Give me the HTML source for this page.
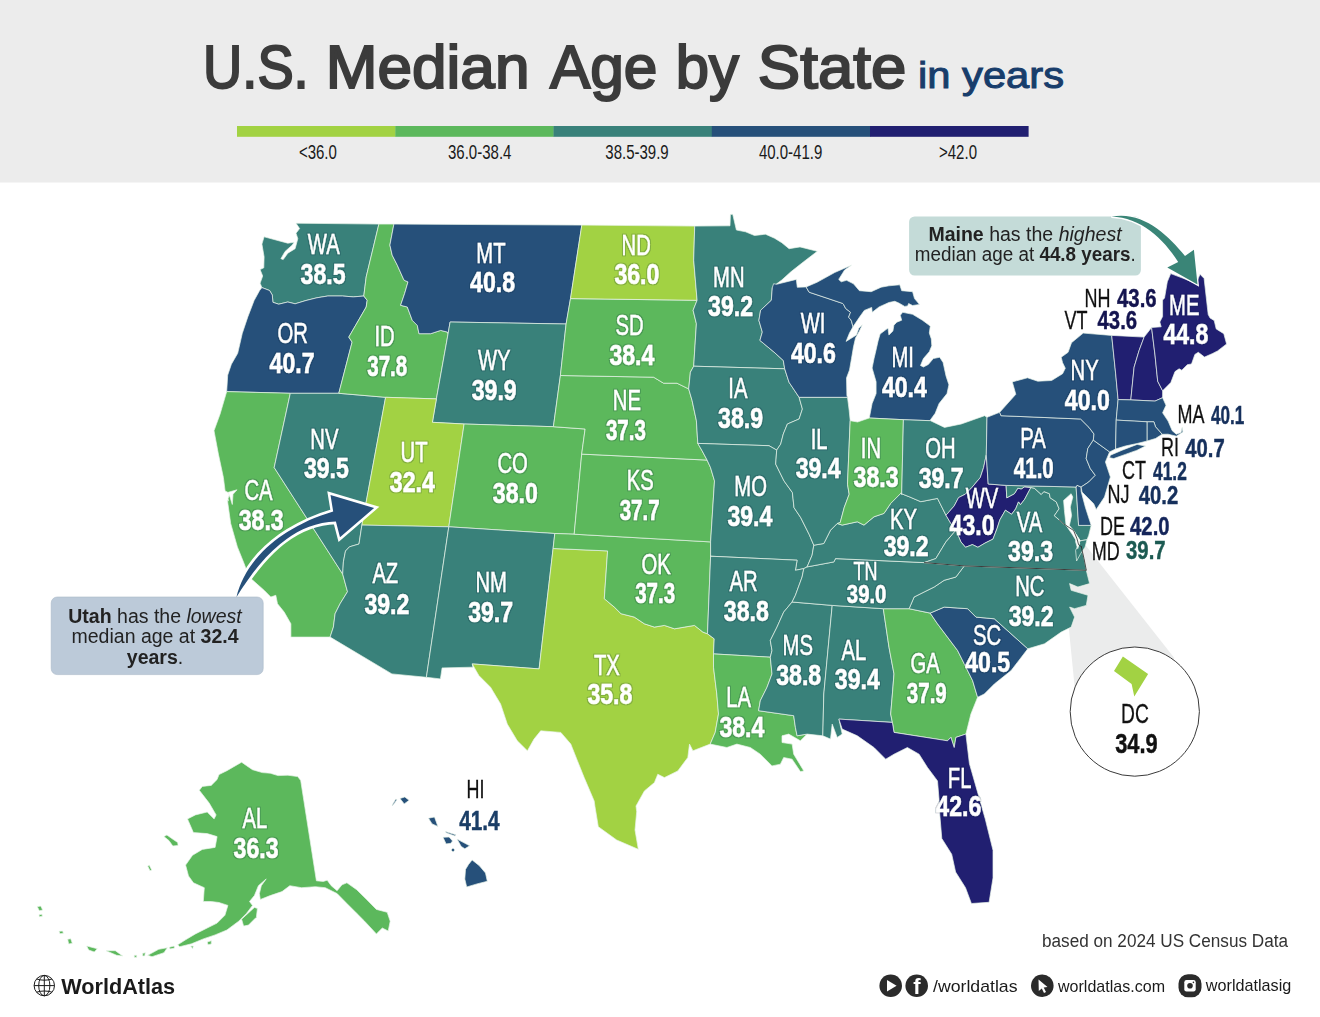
<!DOCTYPE html>
<html lang="en"><head><meta charset="utf-8"><title>U.S. Median Age by State</title>
<style>
html,body{margin:0;padding:0;background:#fff}
body{width:1320px;height:1017px;overflow:hidden}
svg{display:block}
text{font-family:"Liberation Sans",sans-serif}
.st polygon{stroke:#e8f3ea;stroke-width:.7;stroke-linejoin:round}
.ab{font-size:29.6px;fill:#fff;stroke:#fff;stroke-width:.45}
.nu{font-size:29.6px;font-weight:bold;fill:#fff;stroke:#fff;stroke-width:.55}
.sab{font-size:25.7px;fill:#111;stroke:#111;stroke-width:.3}
.snu{font-size:25.7px;font-weight:bold;fill:#16305c;stroke-width:.45}
.co{font-size:19.5px;fill:#222}
</style></head><body>
<svg width="1320" height="1017" viewBox="0 0 1320 1017">
<rect width="1320" height="1017" fill="#fff"/>
<rect width="1320" height="182.5" fill="#ececec"/>

<text x="203.1" y="88.3" font-size="62" fill="#3b3b3b" stroke="#3b3b3b" stroke-width="2.1" stroke-linejoin="miter" textLength="105.6" lengthAdjust="spacingAndGlyphs">U.S.</text>
<text x="325.75" y="88.3" font-size="62" fill="#3b3b3b" stroke="#3b3b3b" stroke-width="2.1" stroke-linejoin="miter" textLength="203.7" lengthAdjust="spacingAndGlyphs">Median</text>
<text x="549.9" y="88.3" font-size="62" fill="#3b3b3b" stroke="#3b3b3b" stroke-width="2.1" stroke-linejoin="miter" textLength="107.4" lengthAdjust="spacingAndGlyphs">Age</text>
<text x="675.8" y="88.3" font-size="62" fill="#3b3b3b" stroke="#3b3b3b" stroke-width="2.1" stroke-linejoin="miter" textLength="63.1" lengthAdjust="spacingAndGlyphs">by</text>
<text x="757.85" y="88.3" font-size="62" fill="#3b3b3b" stroke="#3b3b3b" stroke-width="2.1" stroke-linejoin="miter" textLength="148.5" lengthAdjust="spacingAndGlyphs">State</text>
<text id="sub" x="918" y="88" font-size="36.5" fill="#183d6b" textLength="146" lengthAdjust="spacingAndGlyphs" stroke="#183d6b" stroke-width="1">in years</text>
<rect x="237" y="126" width="158.6" height="10.8" fill="#a2d243"/>
<rect x="395.3" y="126" width="158.5" height="10.8" fill="#5cb85c"/>
<rect x="553.5" y="126" width="158.6" height="10.8" fill="#39817a"/>
<rect x="711.8" y="126" width="158.5" height="10.8" fill="#26507a"/>
<rect x="870" y="126" width="158.6" height="10.8" fill="#211f71"/>
<text transform="translate(317.9,159.3) scale(.74,1)" text-anchor="middle" font-size="20.3" fill="#1a1a1a">&lt;36.0</text>
<text transform="translate(479.7,159.3) scale(.74,1)" text-anchor="middle" font-size="20.3" fill="#1a1a1a">36.0-38.4</text>
<text transform="translate(637,159.3) scale(.74,1)" text-anchor="middle" font-size="20.3" fill="#1a1a1a">38.5-39.9</text>
<text transform="translate(790.6,159.3) scale(.74,1)" text-anchor="middle" font-size="20.3" fill="#1a1a1a">40.0-41.9</text>
<text transform="translate(958,159.3) scale(.74,1)" text-anchor="middle" font-size="20.3" fill="#1a1a1a">&gt;42.0</text>
<polygon points="1057,509 1074.5,685.4 1080,700 1134.8,711.6 1174.3,657.9" fill="#ebecec"/>
<g class="st">
<polygon points="261.9,287.6 260.1,283.2 262.7,276 260.1,269.6 263.8,267.8 264.1,256.8 261.9,244.1 264.1,236.8 287.8,243.2 294.1,242.3 292.3,245 285.1,251.4 280.9,258.7 283.2,259.6 287.8,253.2 295.1,248.7 297.8,238.7 296,233.2 299.6,228.6 296,223.2 378.9,224.1 366.2,276.9 363.8,296 353.3,296.9 342.4,296 327.8,296 316.9,297.8 306,300.5 295.1,303.8 287.8,302 278.7,304.2 272.9,302.3 272.3,295.1 269.6,290.5" fill="#39817a"/>
<polygon points="226.7,391.6 226.8,389.7 227.7,375.1 231.4,364.2 237.7,353.3 242.3,333.3 247.8,316.9 254.1,300.5 259.6,290.5 261.9,287.6 269.6,290.5 272.3,295.1 272.9,302.3 278.7,304.2 287.8,302 295.1,303.8 306,300.5 316.9,297.8 327.8,296 342.4,296 353.3,296.9 363.8,296 367.2,300.3 366.2,307 348.8,337.1 352.1,342.1 338.8,393.3 290.3,393.3" fill="#26507a"/>
<polygon points="226.7,391.6 220.1,414 214,430.7 218.4,454.1 223.4,477.5 225.1,490.9 230.1,493.6 228.1,498.2 228.4,500.9 227.4,500.1 230.7,523.5 237.4,546.9 244.1,563.6 249.1,577 264.1,590.3 270.8,597 275.8,595.3 277.5,603.7 284.2,612.1 290.9,623.8 290.9,637.1 330.1,637.1 333.4,627.1 335.1,613.7 340.1,603.7 347.5,591.7 342.7,574.1 274.2,467.5 290.3,393.3" fill="#5cb85c"/>
<polygon points="290.3,393.3 338.8,393.3 385.6,397.3 361.9,525.1 359,544 349.5,546.8 345.5,551 343.4,561.8 342.7,574.1 274.2,467.5" fill="#39817a"/>
<polygon points="378.9,224.1 393.9,224.1 389.9,245.1 392.2,255.2 397.3,265.2 404,280.2 408,281.9 404.6,293.6 400.6,305.3 407.3,307 412.3,320.4 417.3,325.4 419,333.7 430.7,333.7 440.7,330.4 447.4,332.1 448.1,333.7 436.4,398.9 385.6,397.3 338.8,393.3 352.1,342.1 348.8,337.1 366.2,307 367.2,300.3 363.8,296 366.2,276.9" fill="#5cb85c"/>
<polygon points="393.9,224.1 581.8,225.1 570.5,298.6 566.1,324 450.1,322 448.1,333.7 447.4,332.1 440.7,330.4 430.7,333.7 419,333.7 417.3,325.4 412.3,320.4 407.3,307 400.6,305.3 404.6,293.6 408,281.9 404,280.2 397.3,265.2 392.2,255.2 389.9,245.1" fill="#26507a"/>
<polygon points="448.1,333.7 450.1,322 566.1,324 560.4,375.5 553.4,426.7 464.1,424 432.4,422.3 436.4,398.9" fill="#39817a"/>
<polygon points="385.6,397.3 436.4,398.9 432.4,422.3 464.1,424 448.8,526.8 361.9,525.1" fill="#a2d243"/>
<polygon points="464.1,424 553.4,426.7 585.1,429 581.7,454.1 574.2,534.2 554.8,533.5 448.8,526.8" fill="#5cb85c"/>
<polygon points="361.9,525.1 448.8,526.8 426.4,677.3 391.9,673.9 330.1,637.1 333.4,627.1 335.1,613.7 340.1,603.7 347.5,591.7 342.7,574.1 343.4,561.8 345.5,551 349.5,546.8 359,544" fill="#39817a"/>
<polygon points="448.8,526.8 554.8,533.5 553.1,548.5 539.1,668.9 472.2,663.9 472.9,667.2 442.1,667.9 440.4,678.9 426.4,677.3" fill="#39817a"/>
<polygon points="553.1,548.5 607.6,550.9 604.3,598.7 614.3,607.1 621,613.7 634.3,617.1 644.4,623.8 654.4,627.1 664.4,625.4 674.5,628.8 684.5,627.1 694.5,625.4 702.9,632.1 707.5,633.8 714.2,638.8 713.5,653.9 713.5,667.2 716.8,694 718.5,714 715.2,732.4 710.2,744.1 692.9,750.8 689.5,744.1 687.8,757.5 677.8,770.9 664.4,777.6 657.8,774.2 654.4,782.6 644.4,790.9 636,806 636.7,811.7 635,830 638.3,849.3 616.7,840 598.3,826.7 595,806.7 594.2,801 584.2,777.6 577.5,760.9 570.8,744.1 560.8,732.4 540.7,730.8 534,739.1 527.4,750.8 517.3,740.8 507.3,724.1 500.6,704 490.6,687.3 478.9,675.6 472.2,663.9 539.1,668.9" fill="#a2d243"/>
<polygon points="554.8,533.5 574.2,534.2 710.6,541.9 710.6,556.2 707.5,633.8 702.9,632.1 694.5,625.4 684.5,627.1 674.5,628.8 664.4,625.4 654.4,627.1 644.4,623.8 634.3,617.1 621,613.7 614.3,607.1 604.3,598.7 607.6,550.9 553.1,548.5" fill="#5cb85c"/>
<polygon points="581.7,454.1 707.1,460.1 710.5,467.5 714.5,480.9 710.6,541.9 574.2,534.2" fill="#5cb85c"/>
<polygon points="560.4,375.5 653.6,377.2 663.6,383.2 677,383.2 688.7,388.9 692.1,400.6 696.4,420.7 697.8,443.4 702.1,450.8 707.1,460.1 581.7,454.1 585.1,429 553.4,426.7" fill="#5cb85c"/>
<polygon points="570.5,298.6 697.1,300.3 693.1,310.3 696.4,323.7 693.7,366.2 690.4,372.2 688.7,388.9 677,383.2 663.6,383.2 653.6,377.2 560.4,375.5 566.1,324" fill="#5cb85c"/>
<polygon points="581.8,225.1 694.7,226.1 693.7,260.2 697.1,300.3 570.5,298.6" fill="#a2d243"/>
<polygon points="694.7,226.1 730,225.8 730.4,214.5 732.7,214.2 736.4,230 745.5,231.8 754.5,235.5 765.5,234.2 774.5,238.2 781.8,242.7 789.1,248.7 800,246.9 817.3,251.3 803.6,261.8 790.9,271.8 781.8,280 776.4,284 772.3,287.6 771.3,300.3 760.6,310.3 758.9,320.4 762.3,332.1 759.9,340.4 774,352.1 783.3,360.5 784.7,368.8 693.7,366.2 696.4,323.7 693.1,310.3 697.1,300.3 693.7,260.2" fill="#39817a"/>
<polygon points="693.7,366.2 784.7,368.8 789,382.2 799.1,397.3 802.4,409 799.1,419 787.4,424 783.3,434 780.7,444.1 776.7,450.1 769,445.7 697.8,443.4 696.4,420.7 692.1,400.6 688.7,388.9 690.4,372.2" fill="#39817a"/>
<polygon points="697.8,443.4 769,445.7 776.7,450.1 775.7,464.1 784,480.9 792.4,492.6 794,507.6 800.7,517.6 809.1,534.3 813.8,545.2 812.1,555.2 807.1,566.9 803.8,568.6 795.4,570.3 797.1,560.2 710.2,556.2 710.6,556.2 710.6,541.9 714.5,480.9 710.5,467.5 707.1,460.1 702.1,450.8" fill="#39817a"/>
<polygon points="710.2,556.2 797.1,560.2 795.4,570.3 803.8,568.6 802.1,577 795.4,595.3 792.1,602 783.7,612.1 777,627.1 770.3,640.5 772,650.5 770.3,657.2 713.5,653.9 714.2,638.8 707.5,633.8 710.6,556.2" fill="#39817a"/>
<polygon points="713.5,653.9 770.3,657.2 772,673.9 767,687.3 760.3,700.7 758.6,710.7 793.7,715.7 795.4,727.4 797.1,735.8 807.1,734.1 800.4,740.8 788.7,734.1 782,735.8 782,742.5 792.1,744.1 793.7,754.2 803.8,770.9 800.4,771.6 792.1,759.2 783.7,757.5 780.4,764.2 772,765.9 760.3,754.2 750.3,747.5 736.9,744.1 726.9,747.5 710.2,744.1 715.2,732.4 718.5,714 716.8,694 713.5,667.2" fill="#5cb85c"/>
<polygon points="792.1,602 832.2,605.4 823.8,694 822.8,735.8 807.1,734.1 797.1,735.8 795.4,727.4 793.7,715.7 758.6,710.7 760.3,700.7 767,687.3 772,673.9 770.3,657.2 772,650.5 770.3,640.5 777,627.1 783.7,612.1" fill="#39817a"/>
<polygon points="832.2,605.4 883.3,608.7 889,647.2 894,673.9 892.4,694 890.7,714 892.4,722.4 838.9,719.1 842.2,734.1 837.2,737.4 832.2,724.1 830.5,739.1 822.8,735.8 823.8,694" fill="#39817a"/>
<polygon points="883.3,608.7 909.1,608.7 930.2,613.1 937.5,623.8 947.5,637.1 957.6,650.5 964.3,663.9 972.6,680.6 977.6,697.3 970.9,714 965.9,734.1 955.9,737.4 954.2,747.5 950.9,737.4 947.5,740.8 894,732.4 892.4,722.4 890.7,714 892.4,694 894,673.9 889,647.2" fill="#5cb85c"/>
<polygon points="838.9,719.1 842.2,729.1 857.3,735.8 874,747.5 885.7,759.2 894,754.2 907.4,747.5 919.1,754.2 927.5,767.5 937.5,780.9 939.2,801 939.8,814.8 941.8,838.5 951.7,854.2 955.6,872 965.5,887.7 971.4,903.5 989.1,902.3 993,877.9 993,850.3 985.2,818.8 977.3,791.2 969.4,763.6 965.9,734.1 955.9,737.4 954.2,747.5 950.9,737.4 947.5,740.8 894,732.4 892.4,722.4" fill="#211f71"/>
<polygon points="930.2,613.1 944.2,607.1 967.6,608.7 976,617.1 994.3,618.8 1027.8,648.8 1011.1,670.6 994.3,684 984.3,694 977.6,697.3 972.6,680.6 964.3,663.9 957.6,650.5 947.5,637.1 937.5,623.8" fill="#26507a"/>
<polygon points="964.3,565.9 1086.3,570.3 1089.6,583.6 1077.9,587 1069.6,583.6 1071.2,590.3 1088,595.3 1086.3,605.4 1074.6,608.7 1069.6,607.1 1074.6,617.1 1071.2,627.1 1061.2,632.1 1044.5,643.8 1027.8,648.8 994.3,618.8 976,617.1 967.6,608.7 944.2,607.1 930.2,613.1 909.1,608.7 914.1,597 924.1,592 934.2,587 944.2,580.3 955.9,577" fill="#39817a"/>
<polygon points="807.1,566.9 833.9,561.9 835.5,558.6 924.1,562.6 964.3,565.9 955.9,577 944.2,580.3 934.2,587 924.1,592 914.1,597 909.1,608.7 883.3,608.7 832.2,605.4 792.1,602 795.4,595.3 802.1,577 803.8,568.6" fill="#39817a"/>
<polygon points="813.8,545.2 823.8,543.5 830.5,530.2 837.2,523.5 842.2,525.1 857.3,521.8 864,525.1 874,516.8 884,513.4 890.7,503.4 900.7,493.4 909.1,496.7 920.8,501.7 937.5,498.4 945.9,515.1 950.9,523.5 955.9,530.2 945.9,541.9 935.8,558.6 924.1,562.6 835.5,558.6 833.9,561.9 807.1,566.9 812.1,555.2" fill="#39817a"/>
<polygon points="799.1,397.3 847.5,397.3 849.2,410.6 850.2,420.7 847.5,484.2 849.2,494.2 844.2,507.6 840.2,522.6 837.2,523.5 830.5,530.2 823.8,543.5 813.8,545.2 809.1,534.3 800.7,517.6 794,507.6 792.4,492.6 784,480.9 775.7,464.1 776.7,450.1 780.7,444.1 783.3,434 787.4,424 799.1,419 802.4,409" fill="#39817a"/>
<polygon points="773.6,283.7 776.6,284.3 796.3,279.4 797.3,287.3 806.1,286.9 809.1,292.2 826.8,298.1 842.6,303.4 843.6,304.5 845.6,308.4 850.5,312.3 848.6,317.3 850.5,319.2 851.5,321.2 853,326.8 849.5,333 846.1,341.4 856.4,335 858.9,328.1 862.3,324.7 859.4,331.1 855.5,338 853.5,346.8 851.5,358.6 849.5,370 846.5,377.9 846.9,395.6 847.5,397.3 799.1,397.3 789,382.2 784.7,368.8 783.3,360.5 774,352.1 759.9,340.4 762.3,332.1 758.9,320.4 760.6,310.3 771.3,300.3 772.3,287.6" fill="#26507a"/>
<polygon points="853,326.8 851.5,321.2 850.5,319.2 848.6,317.3 850.5,312.3 845.6,308.4 843.6,304.5 842.6,303.4 826.8,298.1 809.1,292.2 806.1,286.9 817,282.3 834.7,272.5 851.4,265.2 844.6,270 838.7,279.4 841.2,281.8 846.6,280.3 853.5,283.8 859.4,290.7 871.2,291.7 881.1,287.2 888.9,285.8 899.8,284.8 901.7,290.7 912.6,291.7 914.5,298.6 919.5,304.5 912.6,305.5 908.6,303.5 907.7,305.9 904.7,306.4 898.8,303 894.8,301.3 888.9,302.5 879.1,306.9 872.2,312.3 871.7,307.4 864.3,310.4 859.4,317.3" fill="#26507a"/>
<polygon points="869.3,418 872.1,403.5 876.1,393.6 876.1,381.8 872.1,368 874.1,358.2 875.2,353.7 878.1,340.9 880.1,334 888,328.1 888.9,335 892.9,331.1 893.9,325.2 896.8,322.2 901.7,320.2 900.3,315.3 902.7,312.3 912.6,314.3 922.4,320.2 930.3,326.1 929.3,333 931.3,338.9 931.8,345.8 929.3,351.7 923.4,358.6 920.5,365.5 923.4,367 928.3,364.5 933.3,358.6 939.7,357.2 943.1,362.6 946,375.9 948.9,384.8 947,393.6 939.1,403.5 935.2,413.3 930.2,420.2 930.5,420.7 903.4,419.7" fill="#26507a"/>
<polygon points="850.2,420.7 857.6,422 869.3,418 903.4,419.7 901.7,494.2 900.7,493.4 890.7,503.4 884,513.4 874,516.8 864,525.1 857.3,521.8 842.2,525.1 837.2,523.5 840.2,522.6 844.2,507.6 849.2,494.2 847.5,484.2" fill="#5cb85c"/>
<polygon points="903.4,419.7 930.5,420.7 944.5,427.4 961.2,424 984.6,415.7 987,417.3 986.3,454.8 983.6,467.5 980.3,477.5 971.9,487.5 965.3,494.2 958.6,497.6 954.2,505.9 946.9,514.3 945.9,515.1 937.5,498.4 920.8,501.7 909.1,496.7 900.7,493.4 901.7,494.2" fill="#39817a"/>
<polygon points="945.9,515.1 946.9,514.3 954.2,505.9 958.6,497.6 965.3,494.2 971.9,487.5 980.3,477.5 983.6,467.5 986.3,454.8 988.2,484 1006.1,485.4 1006.8,497.8 1014.4,493.7 1017.8,488.2 1021.2,488.9 1024.7,486.8 1030.9,487.5 1024.7,499.2 1020.5,504.7 1018.5,501.9 1015.7,508.8 1011.6,514.3 1005.4,510.2 999.9,519.8 997.2,528.1 993,539.1 984.8,543.2 977.9,547.3 972.4,544.6 965.5,547.3 960.9,541.9 955.9,530.2 950.9,523.5" fill="#211f71"/>
<polygon points="955.9,530.2 960.9,541.9 965.5,547.3 972.4,544.6 977.9,547.3 984.8,543.2 993,539.1 997.2,528.1 999.9,519.8 1005.4,510.2 1011.6,514.3 1015.7,508.8 1018.5,501.9 1020.5,504.7 1024.7,499.2 1030.9,487.5 1034.3,488.2 1041.2,494.4 1043.9,491.6 1049.4,493.7 1050.1,497.8 1056.3,501.9 1059.1,508.8 1054.3,515.7 1059.1,519.8 1063.6,523.8 1073.6,530.5 1077,538.8 1078.6,544.7 1082,547.2 1081.3,546.9 1084,558.6 1086.3,570.3 964.3,565.9 924.1,562.6 935.8,558.6 945.9,541.9" fill="#39817a"/>
<polygon points="1006.1,485.4 1076.1,487 1078.6,525.4 1091.2,525.4 1088.7,535.5 1087,539.7 1080.3,540.8 1077.8,537.1 1073.6,530.5 1063.6,523.8 1059.1,519.8 1054.3,515.7 1059.1,508.8 1056.3,501.9 1050.1,497.8 1049.4,493.7 1043.9,491.6 1041.2,494.4 1034.3,488.2 1030.9,487.5 1024.7,486.8 1021.2,488.9 1017.8,488.2 1014.4,493.7 1006.8,497.8" fill="#39817a"/>
<polygon points="1081.1,487 1077,485.3 1076.1,487 1078.6,525.4 1091.2,525.4 1085.3,507.1 1081.1,491.2" fill="#26507a"/>
<polygon points="987,417.3 999.7,412.3 1001,415.7 1080.6,419 1089,427.4 1094,434 1093.3,440.1 1087.8,448.5 1086.2,458.6 1090.3,468.6 1095.3,475.3 1088.7,482 1081.1,487 1077,485.3 1076.1,487 1006.1,485.4 988.2,484 986.3,454.8" fill="#26507a"/>
<polygon points="1093.3,440.1 1109.6,451.9 1105.4,461.9 1110.4,477 1104.5,497 1096.2,509.6 1093.7,503.7 1082,492 1081.1,487 1088.7,482 1095.3,475.3 1090.3,468.6 1086.2,458.6 1087.8,448.5" fill="#26507a"/>
<polygon points="999.7,412.3 1015.8,394.3 1012.3,381.9 1027.5,377.8 1037.8,381.2 1051.6,380.5 1062.6,373.7 1065.3,368.2 1062.6,362.7 1061.2,357.2 1068.1,352.3 1071.5,342.7 1083.2,333.1 1111.7,335.4 1115.7,373.9 1118.1,399.6 1116.2,420.1 1115.6,449 1109.6,451.9 1093.3,440.1 1094,434 1089,427.4 1080.6,419 1001,415.7" fill="#26507a"/>
<polygon points="1111.7,335.4 1144.1,337.1 1139.1,350.5 1134.1,367.2 1130.8,399.9 1118.1,399.6 1115.7,373.9" fill="#211f71"/>
<polygon points="1144.1,337.1 1151.6,327.5 1155,355 1157.7,381.2 1162.6,390.8 1162.6,397.7 1155,401.1 1130.8,399.9 1134.1,367.2 1139.1,350.5" fill="#211f71"/>
<polygon points="1151.6,327.5 1161.2,326.8 1159.8,322 1162.6,316.5 1162.6,300 1164.5,298.2 1167.3,281.8 1170.7,273.6 1184,278.6 1196,283.6 1200,274.3 1204.1,278.4 1208.2,314.5 1210,317.9 1214.2,320.6 1216.2,328.9 1223.8,333.7 1226.6,344 1217.6,350.9 1212.1,353.7 1204.5,357.1 1198.3,352.3 1194.9,354.4 1191.5,364 1187.3,364.7 1181.8,370.2 1179.1,368.8 1175,371.6 1170.8,382.6 1162.6,390.8 1157.7,381.2 1155,355" fill="#211f71"/>
<polygon points="1118.1,399.6 1130.8,399.9 1155,401.1 1162.6,397.7 1166,405.3 1162.6,412.8 1168.1,421.1 1172.2,430.7 1176.3,434.2 1181.1,432.4 1182.1,427.3 1182.9,432.1 1176.3,436.2 1168.1,434.2 1162.2,434.3 1155.5,426.8 1153.9,421.8 1147.2,421.8 1116.2,420.1" fill="#26507a"/>
<polygon points="1116.2,420.1 1147.2,421.8 1147.2,441 1137.1,443.5 1125.4,446 1115.6,449" fill="#26507a"/>
<polygon points="1147.2,421.8 1153.9,421.8 1155.5,426.8 1162.2,434.3 1155.5,438.5 1147.2,441" fill="#26507a"/>
<polygon points="1063.6,500.4 1071.1,493.7 1072.8,497 1070.3,507.1 1071.6,515.4 1069.4,525.4 1073.6,530.5 1077.8,537.1 1080.3,540.8 1079,544.7 1076.1,540.5 1071.9,533.8 1066.1,525.4 1064.4,510.4" fill="#fff" stroke="none"/>
<polygon points="1080.3,540.8 1087,539.7 1085,547.2 1080.6,553.7 1076.6,561 1075.6,550.3" fill="#39817a"/>
<polygon points="1110.4,455.2 1122.1,450.2 1137.1,444.4 1145.5,446 1137.1,450.2 1125.4,454.4 1113.7,458.6 1109.6,457.7" fill="#26507a"/>
<polygon points="199.3,790.3 202.3,786.4 211.2,785.4 217.1,779.5 219,774.6 226.9,770.7 233.8,766.7 241.6,762.2 246.6,765.7 252.5,769.7 262.3,772.6 270.2,773.2 278,775.6 287.9,775.2 297.7,776.6 300.7,780.5 316.4,880.8 323.3,881.4 327.2,880.2 331.2,885.7 337.1,890.7 342,884.8 346.9,882.8 356.7,889.7 366.6,899.5 376.4,909.4 387.2,912.3 390.2,921.2 388.2,931 382.3,928 376.4,933.9 364.6,921.2 356.7,913.3 346.9,903.5 337.1,893.6 325.3,887.7 315.4,886.7 301.6,887.7 289.8,885.7 282,891.6 270.2,895.6 260.3,899.5 259.4,893.6 261.3,885.7 266.2,878.9 258.4,885.7 254.4,895.6 249.5,901.5 252.5,905.4 246.6,913.3 238.7,921.2 226.9,930 215.1,934.9 203.3,938.9 191.5,943.8 179.7,946.7 177.7,944.8 185.6,939.8 195.4,933.9 207.2,928 217.1,923.1 224.9,915.3 227.9,905.4 219,902.5 211.2,901.5 203.3,901.5 204.3,887.7 193.4,882.8 188.5,875.9 185.6,865.1 192.5,855.3 202.3,849.4 215.1,847.4 217.1,836.6 207.2,833.6 193.4,832.6 187.5,818.9 195.4,814.9 207.2,812 214.1,818.9 216.1,814.9 209.2,803.1" fill="#5cb85c" stroke="none"/>
<polygon points="241.6,919.2 254.4,907.4 257.4,908.4 256.4,917.2 248.5,925.1 243.6,926.1" fill="#5cb85c" stroke="none"/>
<polygon points="163.9,836.6 166.9,835 171.8,838.5 177.7,842.5 178.1,845.4 172.8,846 168.9,840.5" fill="#5cb85c" stroke="none"/>
<polygon points="147.7,866 149.3,865.3 151.7,870 150,870.7" fill="#5cb85c" stroke="none"/>
<polygon points="37.3,906.7 40.7,906 42.7,910 39.3,910.7" fill="#5cb85c" stroke="none"/>
<polygon points="39,914.7 42,914.3 42.3,916.3 39.3,916.7" fill="#5cb85c" stroke="none"/>
<polygon points="59,931.3 62.7,931 63.3,933.3 60,933.7" fill="#5cb85c" stroke="none"/>
<polygon points="67.7,939.3 70.7,938.7 72.3,943.3 68.7,944" fill="#5cb85c" stroke="none"/>
<polygon points="86.7,946 97.3,948.7 94.3,952 88.7,950" fill="#5cb85c" stroke="none"/>
<polygon points="106,950.7 115.3,950.7 122.7,956 116.7,955.3" fill="#5cb85c" stroke="none"/>
<polygon points="134.3,955.3 136.7,955.3 136.7,957.3 134.3,957.3" fill="#5cb85c" stroke="none"/>
<polygon points="142.7,953.3 145.3,952.7 144.7,956 142.7,956" fill="#5cb85c" stroke="none"/>
<polygon points="147.7,955.3 158.7,949.3 167.3,947.7 164,952.7 152,956.7" fill="#5cb85c" stroke="none"/>
<polygon points="169.3,947.3 174,946 174.7,948 170,949" fill="#5cb85c" stroke="none"/>
<polygon points="207.3,942 211.3,940.7 211.3,944 208,944.7" fill="#5cb85c" stroke="none"/>
<polygon points="190.7,946 193.3,946 192.7,948.7" fill="#5cb85c" stroke="none"/>
<polygon points="392.1,805.2 395.8,799.1 397,799.7 392.7,805.4" fill="#26507a" stroke="none"/>
<polygon points="400,798.5 404.8,796.9 409.1,800.3 404.2,803.9" fill="#26507a" stroke="none"/>
<polygon points="428.5,818.2 434.5,817 437.9,826.4 432.1,823.9" fill="#26507a" stroke="none"/>
<polygon points="445.5,831.6 455.8,834.8 455.2,836.1 446.1,832.8" fill="#26507a" stroke="none"/>
<polygon points="443,837.3 449.1,837 452.5,840.9 450.9,843.3 446.1,843.9" fill="#26507a" stroke="none"/>
<polygon points="453,848.1 454.9,850 453,851.9 451.1,850" fill="#26507a" stroke="none"/>
<polygon points="457,839.1 469.7,845.8 464.8,848.8 461.2,846.4" fill="#26507a" stroke="none"/>
<polygon points="472.1,859.9 479.4,865.8 485.5,873 487.3,881.3 477,883.9 466.7,887 464.8,879.1 465.5,869.4 468.5,864.5" fill="#26507a" stroke="none"/>
<polygon points="1076.3,536.3 1079.7,543.2 1077.7,548.7 1075.6,541.8" fill="#fff" stroke="none"/>
<polygon points="228.2,492.3 237,489.8 233,494.3 232.3,504.5 230.2,497.7" fill="#fff" stroke="none"/>
</g>
<polyline points="924.1,562.6 964.3,565.9 1086.3,570.3" fill="none" stroke="#2a2a2a" stroke-width=".9"/>
<polyline points="1059.1,519.8 1063.6,523.8 1073.6,530.5 1077,538.8 1078.6,544.7 1082,547.2 1081.3,546.9 1084,558.6 1086.3,570.3" fill="none" stroke="#2a2a2a" stroke-width=".8"/>
<circle cx="1134.8" cy="711.6" r="64.6" fill="#fff" stroke="#3a3a3a" stroke-width="1"/>
<polygon points="1122.9,656.5 1148.1,674.1 1134.3,696.4 1131.6,684.1 1114,671" fill="#a2d243"/>
<defs><filter id="ol" x="-2%" y="-2%" width="104%" height="104%"><feMorphology in="SourceAlpha" operator="dilate" radius="1" result="d"/><feFlood flood-color="#052038" flood-opacity=".22"/><feComposite in2="d" operator="in" result="o"/><feMerge><feMergeNode in="o"/><feMergeNode in="SourceGraphic"/></feMerge></filter></defs>
<g text-anchor="middle" filter="url(#ol)">
<text class="ab" transform="translate(323.7,254.3) scale(.684,1)">WA</text><text class="nu" transform="translate(323,284.4) scale(0.78,1)">38.5</text>
<text class="ab" transform="translate(292.6,342.9) scale(.684,1)">OR</text><text class="nu" transform="translate(292,373) scale(0.78,1)">40.7</text>
<text class="ab" transform="translate(384.6,346.2) scale(.684,1)">ID</text><text class="nu" transform="translate(387.2,375.7) scale(0.693,1)">37.8</text>
<text class="ab" transform="translate(490.9,262.7) scale(.684,1)">MT</text><text class="nu" transform="translate(492.5,291.8) scale(0.78,1)">40.8</text>
<text class="ab" transform="translate(494.2,369.6) scale(.684,1)">WY</text><text class="nu" transform="translate(494.2,399.7) scale(0.78,1)">39.9</text>
<text class="ab" transform="translate(324.4,448.9) scale(.684,1)">NV</text><text class="nu" transform="translate(326.4,478.3) scale(0.78,1)">39.5</text>
<text class="ab" transform="translate(414,462.3) scale(.684,1)">UT</text><text class="nu" transform="translate(412.3,491.7) scale(0.78,1)">32.4</text>
<text class="ab" transform="translate(512.6,473.3) scale(.684,1)">CO</text><text class="nu" transform="translate(515.3,502.7) scale(0.78,1)">38.0</text>
<text class="ab" transform="translate(258.5,500) scale(.684,1)">CA</text><text class="nu" transform="translate(261.2,530.1) scale(0.78,1)">38.3</text>
<text class="ab" transform="translate(636.2,255) scale(.684,1)">ND</text><text class="nu" transform="translate(636.9,284.4) scale(0.78,1)">36.0</text>
<text class="ab" transform="translate(629.5,334.5) scale(.684,1)">SD</text><text class="nu" transform="translate(631.9,364.6) scale(0.78,1)">38.4</text>
<text class="ab" transform="translate(626.9,409.8) scale(.684,1)">NE</text><text class="nu" transform="translate(625.9,439.8) scale(0.693,1)">37.3</text>
<text class="ab" transform="translate(640.2,490) scale(.684,1)">KS</text><text class="nu" transform="translate(639.6,520.1) scale(0.693,1)">37.7</text>
<text class="ab" transform="translate(728.8,287.1) scale(.684,1)">MN</text><text class="nu" transform="translate(730.5,316.1) scale(0.78,1)">39.2</text>
<text class="ab" transform="translate(737.9,398.1) scale(.684,1)">IA</text><text class="nu" transform="translate(740.5,427.5) scale(0.78,1)">38.9</text>
<text class="ab" transform="translate(750.6,495.7) scale(.684,1)">MO</text><text class="nu" transform="translate(749.9,525.8) scale(0.78,1)">39.4</text>
<text class="ab" transform="translate(813.1,332.9) scale(.684,1)">WI</text><text class="nu" transform="translate(813.4,363) scale(0.78,1)">40.6</text>
<text class="ab" transform="translate(819.1,448.9) scale(.684,1)">IL</text><text class="nu" transform="translate(818.1,478.3) scale(0.78,1)">39.4</text>
<text class="ab" transform="translate(870.9,457.6) scale(.684,1)">IN</text><text class="nu" transform="translate(876,486.7) scale(0.78,1)">38.3</text>
<text class="ab" transform="translate(902.7,367.3) scale(.684,1)">MI</text><text class="nu" transform="translate(904.4,397.4) scale(0.78,1)">40.4</text>
<text class="ab" transform="translate(940.5,457.6) scale(.684,1)">OH</text><text class="nu" transform="translate(941.1,487.7) scale(0.78,1)">39.7</text>
<text class="ab" transform="translate(1084.6,379.7) scale(.684,1)">NY</text><text class="nu" transform="translate(1087.3,409.8) scale(0.78,1)">40.0</text>
<text class="ab" transform="translate(1033.1,447.5) scale(.684,1)">PA</text><text class="nu" transform="translate(1033.8,477.6) scale(0.693,1)">41.0</text>
<text class="ab" transform="translate(1184.2,314.5) scale(.684,1)">ME</text><text class="nu" transform="translate(1185.9,343.9) scale(0.78,1)">44.8</text>
<text class="ab" transform="translate(982,508.4) scale(.684,1)">WV</text><text class="nu" transform="translate(972,535.1) scale(0.78,1)">43.0</text>
<text class="ab" transform="translate(1029.4,531.7) scale(.684,1)">VA</text><text class="nu" transform="translate(1030.5,560.5) scale(0.78,1)">39.3</text>
<text class="ab" transform="translate(903.4,529.4) scale(.684,1)">KY</text><text class="nu" transform="translate(906.1,556.1) scale(0.78,1)">39.2</text>
<text class="ab" transform="translate(1029.8,596.3) scale(.684,1)">NC</text><text class="nu" transform="translate(1031.1,625.7) scale(0.78,1)">39.2</text>
<text class="ab" transform="translate(987,645.4) scale(.684,1)">SC</text><text class="nu" transform="translate(987.7,671.5) scale(0.78,1)">40.5</text>
<text class="ab" transform="translate(925.1,673.2) scale(.684,1)">GA</text><text class="nu" transform="translate(926.8,703.3) scale(0.693,1)">37.9</text>
<text class="ab" transform="translate(743.6,591.1) scale(.684,1)">AR</text><text class="nu" transform="translate(746.3,621.2) scale(0.78,1)">38.8</text>
<text class="ab" transform="translate(797.7,655.3) scale(.684,1)">MS</text><text class="nu" transform="translate(798.7,685.4) scale(0.78,1)">38.8</text>
<text class="ab" transform="translate(853.9,660.3) scale(.684,1)">AL</text><text class="nu" transform="translate(857.3,688.8) scale(0.78,1)">39.4</text>
<text class="ab" transform="translate(738.6,706.5) scale(.684,1)">LA</text><text class="nu" transform="translate(741.9,736.6) scale(0.78,1)">38.4</text>
<text class="ab" transform="translate(959.6,788.1) scale(.684,1)">FL</text><text class="nu" transform="translate(958.8,815.7) scale(0.78,1)">42.6</text>
<text class="ab" transform="translate(385.3,582.8) scale(.684,1)">AZ</text><text class="nu" transform="translate(386.9,613.9) scale(0.78,1)">39.2</text>
<text class="ab" transform="translate(491.2,591.8) scale(.684,1)">NM</text><text class="nu" transform="translate(490.6,621.9) scale(0.78,1)">39.7</text>
<text class="ab" transform="translate(656.1,573.7) scale(.684,1)">OK</text><text class="nu" transform="translate(655.1,602.8) scale(0.693,1)">37.3</text>
<text class="ab" transform="translate(606.9,674.7) scale(.684,1)">TX</text><text class="nu" transform="translate(609.9,704.1) scale(0.78,1)">35.8</text>
<text class="ab" transform="translate(255,827.5) scale(.684,1)">AL</text><text class="nu" transform="translate(256,857.5) scale(0.78,1)">36.3</text>
<text class="ab" style="font-size:25.7px" transform="translate(865.5,580) scale(.70,1)">TN</text><text class="nu" style="font-size:25.7px" transform="translate(866.6,602.7) scale(.79,1)">39.0</text>
</g><g text-anchor="middle">
<text class="sab" transform="translate(1097.5,306.8) scale(.70,1)">NH</text><text class="snu" style="fill:#14144f;stroke:#14144f" transform="translate(1136.8,306.8) scale(0.79,1)">43.6</text>
<text class="sab" transform="translate(1076.1,329.1) scale(.70,1)">VT</text><text class="snu" style="fill:#14144f;stroke:#14144f" transform="translate(1117.3,329.1) scale(0.79,1)">43.6</text>
<text class="sab" transform="translate(1190.9,423) scale(.70,1)">MA</text><text class="snu" style="fill:#16305c;stroke:#16305c" transform="translate(1227.7,424) scale(0.665,1)">40.1</text>
<text class="sab" transform="translate(1169.9,455.5) scale(.70,1)">RI</text><text class="snu" style="fill:#16305c;stroke:#16305c" transform="translate(1205,456.5) scale(0.79,1)">40.7</text>
<text class="sab" transform="translate(1134.1,479) scale(.70,1)">CT</text><text class="snu" style="fill:#16305c;stroke:#16305c" transform="translate(1169.9,480) scale(0.675,1)">41.2</text>
<text class="sab" transform="translate(1118.4,503.4) scale(.70,1)">NJ</text><text class="snu" style="fill:#16305c;stroke:#16305c" transform="translate(1158.5,504.4) scale(0.79,1)">40.2</text>
<text class="sab" transform="translate(1112.4,535) scale(.70,1)">DE</text><text class="snu" style="fill:#14255a;stroke:#14255a" transform="translate(1149.8,535) scale(0.79,1)">42.0</text>
<text class="sab" transform="translate(1105.7,560.4) scale(.70,1)">MD</text><text class="snu" style="fill:#1c5a52;stroke:#1c5a52" transform="translate(1145.8,559.4) scale(0.79,1)">39.7</text>
<text class="sab" style="font-size:25.6px" transform="translate(475.5,797.9) scale(.70,1)">HI</text><text class="snu" style="font-size:28.2px;fill:#1a3d66;stroke:#1a3d66" transform="translate(479.4,830) scale(.737,1)">41.4</text>
<text class="sab" style="font-size:28px" transform="translate(1135,722.6) scale(.687,1)">DC</text><text class="snu" style="font-size:28.3px;fill:#111;stroke:#111" transform="translate(1136.4,753.2) scale(.772,1)">34.9</text>
</g>
<rect x="909.1" y="216.4" width="231.8" height="59.1" rx="5.5" fill="#c4dbd8"/>
<g class="co"><text x="928.4" y="241" textLength="193.2" lengthAdjust="spacingAndGlyphs"><tspan font-weight="bold">Maine</tspan> has the <tspan font-style="italic">highest</tspan></text><text x="914.8" y="261" textLength="221" lengthAdjust="spacingAndGlyphs">median age at <tspan font-weight="bold">44.8 years</tspan>.</text></g>
<path d="M1111.4,216.6 C1142.3,210.7 1167.2,234 1185,255.9 L1193.9,249.8 L1197.5,284.5 L1167.3,267.5 L1178.2,262 C1163.5,238.7 1140.5,217.4 1111.4,216.6 Z" fill="#3a8577" stroke="#fff" stroke-width="2.6" paint-order="stroke" stroke-linejoin="miter"/>
<path d="M236.4,597.3 C247.3,552.2 291.2,523.7 333.2,511.4 L330.5,495 L374.1,508 L340,537.3 L335.9,521.6 C289.7,523 258.8,561.4 236.4,597.3 Z" fill="#26507a" stroke="#fff" stroke-width="5.2" paint-order="stroke" stroke-linejoin="miter" stroke-miterlimit="8"/>
<rect x="51.2" y="597" width="212" height="77.6" rx="6" fill="#bccad9" stroke="#aab8c8" stroke-width=".6"/>
<g class="co" text-anchor="middle"><text x="155" y="623"><tspan font-weight="bold">Utah</tspan> has the <tspan font-style="italic">lowest</tspan></text><text x="155" y="643">median age at <tspan font-weight="bold">32.4</tspan></text><text x="155" y="663.5"><tspan font-weight="bold">years</tspan>.</text></g>
<text x="1042" y="946.5" font-size="17.6" fill="#333" textLength="246" lengthAdjust="spacingAndGlyphs">based on 2024 US Census Data</text>
<text x="61.2" y="994.2" font-size="22.5" font-weight="bold" fill="#1a1a1a" textLength="114" lengthAdjust="spacingAndGlyphs">WorldAtlas</text>
<g fill="none" stroke="#1a1a1a" stroke-width="1"><circle cx="44.3" cy="985.6" r="10.2"/><ellipse cx="44.3" cy="985.6" rx="5.6" ry="10.2"/><path d="M34.1,985.6H54.5M44.3,975.4V995.8M36.6,979C41,980.6 47.6,980.6 52,979M36.6,992.2C41,990.6 47.6,990.6 52,992.2"/></g>
<circle cx="890.7" cy="985.8" r="11.3" fill="#2b2b2b"/><path d="M887,980L896.6,985.8L887,991.6Z" fill="#fff"/>
<circle cx="916.7" cy="985.8" r="11.3" fill="#2b2b2b"/><text x="917" y="994.3" text-anchor="middle" font-size="22" font-weight="bold" fill="#fff">f</text>
<text x="933" y="991.8" font-size="17" fill="#1a1a1a" textLength="84.5" lengthAdjust="spacingAndGlyphs">/worldatlas</text>
<circle cx="1042.3" cy="985.8" r="11.3" fill="#2b2b2b"/><path d="M1038.5,979.5L1047.5,987L1043.7,987.5L1046,992.1L1044,993.1L1041.8,988.5L1038.8,991Z" fill="#fff"/>
<text x="1058" y="991.8" font-size="17" fill="#1a1a1a" textLength="107" lengthAdjust="spacingAndGlyphs">worldatlas.com</text>
<rect x="1178.5" y="974.3" width="23" height="23" rx="9.5" fill="#2b2b2b"/><rect x="1184.3" y="980.1" width="11.4" height="11.4" rx="2.2" fill="#fff"/><circle cx="1190" cy="985.8" r="2.8" fill="#2b2b2b"/><circle cx="1193.4" cy="982.4" r=".8" fill="#2b2b2b"/>
<text x="1205.8" y="991.3" font-size="17" fill="#1a1a1a" textLength="85.5" lengthAdjust="spacingAndGlyphs">worldatlasig</text>
</svg></body></html>
